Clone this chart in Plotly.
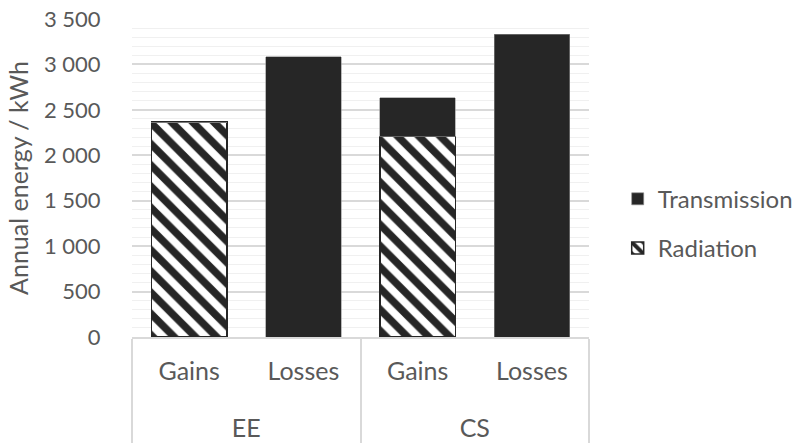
import plotly.graph_objects as go

# Building variants and energy balance sides
variants = ["EE", "EE", "CS", "CS"]
sides = ["Gains", "Losses", "Gains", "Losses"]

# Annual energy per component, kWh
radiation = [2365, 0, 2205, 0]
transmission = [0, 3085, 430, 3330]

y_ticks = [0, 500, 1000, 1500, 2000, 2500, 3000, 3500]

FONT = "Lato"
GREY = "#595959"
DARK = "#262626"

# inner category labels get an extra (blank) line so the outer
# level sits lower, as in a spreadsheet-style grouped axis
spacer = "<br><span style='font-size:42px'>\u00a0</span>"
x = [variants, [s + spacer for s in sides]]

fig = go.Figure()
fig.add_trace(go.Bar(
    x=x, y=radiation, name="Radiation",
    legendgroup="rad", legendrank=2,
    marker=dict(
        color="white",
        line=dict(color=DARK, width=1.5),
        pattern=dict(shape="\\", fgcolor=DARK, bgcolor="white",
                     fgopacity=1, size=15, solidity=0.5, fillmode="replace"),
    ),
))
fig.add_trace(go.Bar(
    x=x, y=transmission, name="Transmission",
    legendgroup="tra", legendrank=1,
    marker=dict(color=DARK, line=dict(color="#8c8c8c", width=0.6)),
))

fig.update_layout(
    width=796, height=443,
    margin=dict(l=132, r=207, t=19, b=106),
    barmode="stack", bargap=0.34,
    paper_bgcolor="white", plot_bgcolor="white",
    separators=", ",
    font=dict(family=FONT, size=20, color=GREY),
    showlegend=True,
    legend=dict(
        x=0.776, xref="container", xanchor="left",
        y=0.495, yref="container", yanchor="middle",
        traceorder="grouped", tracegroupgap=15,
        font=dict(family=FONT, size=24, color=GREY),
        bgcolor="rgba(0,0,0,0)",
    ),
    xaxis=dict(
        type="multicategory",
        showline=True, linecolor="#d9d9d9", linewidth=1.5,
        showdividers=True, dividercolor="#d9d9d9", dividerwidth=1.5,
        tickfont=dict(family=FONT, size=25, color=GREY),
        ticklabelstandoff=11,
        ticks="", automargin=False,
    ),
    yaxis=dict(
        range=[0, 3500],
        tickvals=y_ticks,
        separatethousands=True,
        showline=False, zeroline=False,
        gridcolor="#d9d9d9", gridwidth=1.5,
        minor=dict(dtick=100, showgrid=True, gridcolor="#f0f0f0", gridwidth=1),
        ticks="outside", ticklen=26, tickcolor="rgba(0,0,0,0)",
        tickfont=dict(family=FONT, size=22, color=GREY),
        title=dict(text="Annual energy / kWh", standoff=8,
                   font=dict(family=FONT, size=25, color=GREY)),
        automargin=False,
    ),
)

fig.write_html("out.html")
